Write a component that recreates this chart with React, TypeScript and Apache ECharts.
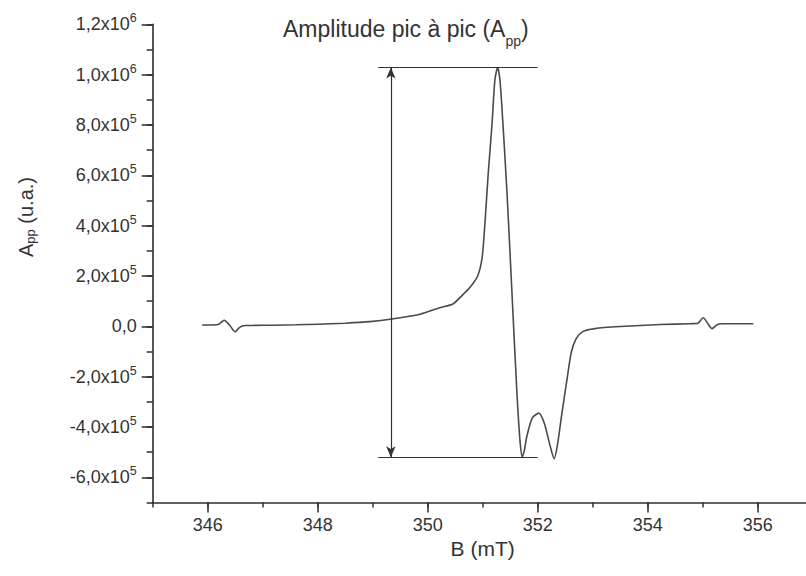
import React, { useEffect, useRef } from "react";
import * as echarts from "echarts";

// Magnetic field B (mT)
const FIELD_B = [
  345.9, 346.1, 346.2, 346.3, 346.4, 346.5, 346.58, 346.68, 346.8, 347.2,
  347.6, 348.0, 348.5, 348.95, 349.35, 349.86, 350.22, 350.46, 350.59, 350.77,
  350.91, 350.99, 351.04, 351.1, 351.17, 351.22, 351.27, 351.31, 351.35, 351.44,
  351.53, 351.62, 351.68, 351.72, 351.76, 351.8, 351.9, 352.02, 352.12, 352.22,
  352.3, 352.36, 352.44, 352.53, 352.61, 352.7, 352.82, 353.04, 353.5, 354.23,
  354.77, 354.9, 355.01, 355.09, 355.17, 355.26, 355.35, 355.92,
];
// EPR signal amplitude (u.a.)
const AMPLITUDE = [
  5000, 5000, 8000, 24000, 4000, -22000, -4000, 3000, 3500, 4500,
  6000, 8500, 12500, 18500, 29000, 48000, 74000, 89000, 115000, 155000,
  201000, 274000, 407000, 606000, 805000, 975000, 1028000, 985000, 868000, 538000,
  142000, -255000, -460000, -518000, -490000, -440000, -365000, -345000, -385000, -470000,
  -526000, -470000, -346000, -215000, -104000, -49000, -21000, -9000, -1000, 7000,
  10500, 11000, 34000, 12000, -9000, 6000, 10500, 10500,
];

const X_LABELS = [346, 348, 350, 352, 354, 356];
const Y_MAJOR = [-600000, -400000, -200000, 0, 200000, 400000, 600000, 800000, 1000000, 1200000];

// Peak-to-peak annotation
const ARROW_B = 349.33;
const TOP_A = 1028000;
const BOTTOM_A = -520000;
const HLINE_START = 349.1;
const HLINE_END = 352.0;

const FONT = "'Liberation Sans', Arial, Helvetica, sans-serif";
const TXT = "#333";
const AX = "#2e2e2e";

function fmtY(v: number): string {
  const k = Math.round(v / 100000);
  if (Math.abs(k) % 2 !== 0) return "";
  if (k === 0) return "0,0";
  const e = Math.floor(Math.log10(Math.abs(v)) + 1e-9);
  const m = v / Math.pow(10, e);
  return m.toFixed(1).replace(".", ",") + "x10{s|" + e + "}";
}

export default function App() {
  const ref = useRef<HTMLDivElement>(null);
  useEffect(() => {
    if (!ref.current) return;
    const chart = echarts.init(ref.current, null, { renderer: "svg" });
    const data = FIELD_B.map((b, i) => [b, AMPLITUDE[i]]);
    const gridLeft = 152.7;
    const pxPerMT = 55;
    chart.setOption({
      animation: false,
      title: {
        text: "{b|Amplitude pic à pic (A}{sub|pp}{b|)}",
        left: 278,
        top: 10,
        textStyle: {
          fontSize: 23,
          fontWeight: "normal",
          color: TXT,
          fontFamily: FONT,
          rich: {
            b: {
              fontSize: 23,
              lineHeight: 27,
              color: TXT,
              fontFamily: FONT,
            },
            sub: {
              fontSize: 14,
              lineHeight: 14,
              padding: [24, 0, 0, 0],
              color: TXT,
              fontFamily: FONT,
            },
          },
        },
      },
      graphic: [
        {
          type: "text",
          x: 26,
          y: 217,
          rotation: Math.PI / 2,
          style: {
            text: "{b|A}{sub|pp}{b| (u.a.)}",
            fontSize: 20,
            fontFamily: FONT,
            fill: TXT,
            align: "center",
            verticalAlign: "middle",
            rich: {
              b: {
                fontSize: 20,
                lineHeight: 22,
                fontFamily: FONT,
                fill: TXT,
              },
              sub: {
                fontSize: 13,
                lineHeight: 13,
                padding: [9, 0, 0, 0],
                fontFamily: FONT,
                fill: TXT,
              },
            },
          },
        },
      ],
      grid: {
        left: gridLeft,
        top: 24.3,
        width: 12 * pxPerMT,
        height: 478.2,
        containLabel: false,
      },
      xAxis: [
        {
          type: "value",
          min: 345,
          max: 357,
          interval: 1,
          position: "bottom",
          name: "B (mT)",
          nameLocation: "middle",
          nameGap: 32,
          nameTextStyle: { fontSize: 21, color: TXT, fontFamily: FONT },
          axisLine: { show: true, onZero: false, lineStyle: { color: AX, width: 1.6 } },
          axisTick: { show: true, length: 5, lineStyle: { color: AX, width: 1.5 } },
          axisLabel: {
            fontSize: 18,
            color: TXT,
            fontFamily: FONT,
            margin: 13,
            formatter: (v: number) =>
              X_LABELS.indexOf(Math.round(v)) >= 0 && Math.abs(v - Math.round(v)) < 1e-6
                ? String(Math.round(v))
                : "",
          },
          splitLine: { show: false },
        },
        {
          type: "value",
          min: 345,
          max: 357,
          interval: 1,
          position: "bottom",
          axisLine: { show: false, onZero: false },
          axisTick: { show: true, length: 10, customValues: X_LABELS, lineStyle: { color: AX, width: 1.5 } },
          axisLabel: { show: false },
          splitLine: { show: false },
        },
      ],
      yAxis: [
        {
          type: "value",
          min: -700000,
          max: 1200000,
          interval: 100000,
          position: "left",
          axisLine: { show: true, onZero: false, lineStyle: { color: AX, width: 1.6 } },
          axisTick: { show: true, length: 6, lineStyle: { color: AX, width: 1.5 } },
          axisLabel: {
            fontSize: 18,
            lineHeight: 25,
            color: TXT,
            fontFamily: FONT,
            margin: 16,
            formatter: fmtY,
            rich: {
              s: { fontSize: 12.5, lineHeight: 12.5, verticalAlign: "top", color: TXT, fontFamily: FONT },
            },
          },
          splitLine: { show: false },
        },
        {
          type: "value",
          min: -700000,
          max: 1200000,
          interval: 100000,
          position: "left",
          axisLine: { show: false, onZero: false },
          axisTick: { show: true, length: 11, customValues: Y_MAJOR, lineStyle: { color: AX, width: 1.5 } },
          axisLabel: { show: false },
          splitLine: { show: false },
        },
      ],
      series: [
        {
          type: "line",
          xAxisIndex: 0,
          yAxisIndex: 0,
          data,
          showSymbol: false,
          smooth: 0.25,
          silent: true,
          lineStyle: { color: "#4a4a4a", width: 1.6 },
          markLine: {
            silent: true,
            animation: false,
            symbol: ["none", "none"],
            symbolSize: [7, 11],
            label: { show: false },
            lineStyle: { color: "#333", width: 1.2, type: "solid" },
            emphasis: { disabled: true },
            data: [
              [{ coord: [HLINE_START, TOP_A] }, { coord: [HLINE_END, TOP_A] }],
              [{ coord: [HLINE_START, BOTTOM_A] }, { coord: [HLINE_END, BOTTOM_A] }],
              [
                { coord: [ARROW_B, TOP_A], symbol: "arrow" },
                { coord: [ARROW_B, BOTTOM_A], symbol: "arrow" },
              ],
            ],
          },
        },
      ],
    });
    return () => chart.dispose();
  }, []);
  return (
    <div
      style={{
        position: "absolute",
        left: 0,
        top: 0,
        width: 806,
        height: 576,
        overflow: "hidden",
        background: "#fff",
      }}
    >
      <div ref={ref} style={{ width: 830, height: 576 }} />
    </div>
  );
}
